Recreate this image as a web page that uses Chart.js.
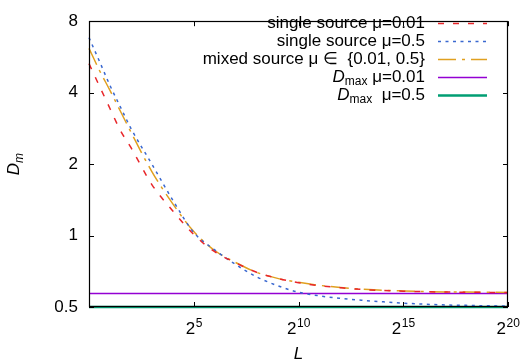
<!DOCTYPE html>
<html>
<head>
<meta charset="utf-8">
<script src="https://cdn.jsdelivr.net/npm/chart.js@4/dist/chart.umd.min.js"></script>
<style>
  html, body { margin: 0; padding: 0; background: #fff; }
  #wrap { width: 521px; height: 364px; }
</style>
</head>
<body>
<div id="wrap"><canvas id="chart" width="521" height="364"></canvas></div>
<script>
// x values are log2(L)
const log2L = [0, 0.5, 1, 1.5, 2, 3, 4, 5, 6, 7, 8, 9, 10, 11, 12, 13, 14, 15, 16, 17, 18, 19, 20];
const singleLow  = [5.3, 4.26, 3.43, 2.77, 2.35, 1.64, 1.27, 1.01, 0.855, 0.768, 0.70, 0.66, 0.633, 0.615, 0.603, 0.593, 0.587, 0.583, 0.580, 0.578, 0.577, 0.576, 0.575];
const singleHigh = [6.82, 5.42, 4.29, 3.48, 2.83, 2.0, 1.41, 1.03, 0.87, 0.755, 0.67, 0.615, 0.577, 0.557, 0.544, 0.534, 0.526, 0.519, 0.514, 0.510, 0.508, 0.506, 0.505];
const mixed      = [6.15, 4.96, 4.09, 3.34, 2.73, 1.86, 1.36, 1.04, 0.865, 0.77, 0.70, 0.66, 0.635, 0.617, 0.604, 0.595, 0.588, 0.584, 0.581, 0.579, 0.578, 0.577, 0.576];
const dmaxLow  = 0.57;
const dmaxHigh = 0.5;
const yTickVals = [0.5, 1, 2, 4, 8];
const xTickExps = [5, 10, 15, 20];

const FONT = '"Liberation Sans", Arial, Helvetica, sans-serif';

const pts = arr => log2L.map((e, i) => ({ x: e, y: arr[i] }));
const flat = v => [{ x: log2L[0], y: v }, { x: log2L[log2L.length - 1], y: v }];

const series = [
  { label: 'single source μ=0.01', data: pts(singleLow), color: '#e8262a', dash: [6, 9], width: 1.5 },
  { label: 'single source μ=0.5', data: pts(singleHigh), color: '#3a68d0', dash: [3, 4.5], width: 1.5 },
  { label: 'mixed source μ ∈  {0.01, 0.5}', data: pts(mixed), color: '#e0a020', dash: [18, 6, 3, 6], width: 1.5 },
  { label: 'Dmax μ=0.01', data: flat(dmaxLow), color: '#9400d3', dash: [], width: 1.5, dmax: ' μ=0.01' },
  { label: 'Dmax μ=0.5', data: flat(dmaxHigh), color: '#009e73', dash: [], width: 2.5, dmax: '  μ=0.5' }
];

const frame = {
  id: 'frame',
  afterDraw(chart) {
    const ctx = chart.ctx;
    const a = chart.chartArea;
    const xs = chart.scales.x, ys = chart.scales.y;
    ctx.save();

    // border
    ctx.strokeStyle = '#000';
    ctx.lineWidth = 1.2;
    ctx.strokeRect(Math.round(a.left) + 0.5, Math.round(a.top) + 0.5,
      Math.round(a.right - a.left) - 1, Math.round(a.bottom - a.top) - 1);

    // inward ticks, mirrored
    const tl = 5;
    ctx.lineWidth = 1;
    ctx.beginPath();
    xTickExps.forEach(e => {
      const px = Math.round(xs.getPixelForValue(e)) + 0.5;
      ctx.moveTo(px, a.bottom); ctx.lineTo(px, a.bottom - tl);
      ctx.moveTo(px, a.top); ctx.lineTo(px, a.top + tl);
    });
    yTickVals.forEach(v => {
      const py = Math.round(ys.getPixelForValue(v)) + 0.5;
      ctx.moveTo(a.left, py); ctx.lineTo(a.left + tl, py);
      ctx.moveTo(a.right, py); ctx.lineTo(a.right - tl, py);
    });
    ctx.stroke();

    // x tick labels 2^n
    ctx.fillStyle = '#000';
    ctx.textBaseline = 'alphabetic';
    ctx.textAlign = 'left';
    xTickExps.forEach(e => {
      const px = xs.getPixelForValue(e);
      ctx.font = '17px ' + FONT;
      const wb = ctx.measureText('2').width;
      ctx.font = '12px ' + FONT;
      const we = ctx.measureText(String(e)).width;
      const x0 = px - (wb + we) / 2;
      ctx.font = '17px ' + FONT;
      ctx.fillText('2', x0, 334);
      ctx.font = '12px ' + FONT;
      ctx.fillText(String(e), x0 + wb + 0.5, 327);
    });

    // axis titles
    ctx.font = 'italic 17px ' + FONT;
    ctx.textAlign = 'center';
    ctx.fillText('L', (a.left + a.right) / 2, 359);

    ctx.save();
    ctx.translate(19, (a.top + a.bottom) / 2);
    ctx.rotate(-Math.PI / 2);
    ctx.font = 'italic 17px ' + FONT;
    const wD = ctx.measureText('D').width;
    ctx.font = 'italic 12px ' + FONT;
    const wm = ctx.measureText('m').width;
    ctx.textAlign = 'left';
    ctx.font = 'italic 17px ' + FONT;
    ctx.fillText('D', -(wD + wm) / 2, 0);
    ctx.font = 'italic 12px ' + FONT;
    ctx.fillText('m', -(wD + wm) / 2 + wD, 4);
    ctx.restore();

    // legend
    const textRight = 425, lx0 = 438, lx1 = 487;
    const rows = [23, 41, 59, 77, 95];
    series.forEach((s, i) => {
      const y = rows[i];
      ctx.textBaseline = 'middle';
      ctx.textAlign = 'right';
      if (s.dmax) {
        ctx.font = '17px ' + FONT;
        ctx.fillText(s.dmax, textRight, y);
        const w1 = ctx.measureText(s.dmax).width;
        ctx.font = '12px ' + FONT;
        ctx.fillText('max', textRight - w1, y + 5);
        const w2 = ctx.measureText('max').width;
        ctx.font = 'italic 17px ' + FONT;
        ctx.fillText('D', textRight - w1 - w2, y);
      } else {
        ctx.font = '17px ' + FONT;
        ctx.fillText(s.label, textRight, y);
      }
      ctx.beginPath();
      ctx.strokeStyle = s.color;
      ctx.lineWidth = s.width;
      ctx.setLineDash(s.dash);
      ctx.moveTo(lx0, y + 0.5); ctx.lineTo(lx1, y + 0.5);
      ctx.stroke();
      ctx.setLineDash([]);
    });

    ctx.restore();
  }
};

new Chart(document.getElementById('chart'), {
  type: 'line',
  data: {
    datasets: series.map(s => ({
      label: s.label,
      data: s.data,
      borderColor: s.color,
      backgroundColor: s.color,
      borderWidth: s.width,
      borderDash: s.dash,
      pointRadius: 0,
      fill: false,
      tension: 0.4,
      cubicInterpolationMode: 'monotone',
      clip: 3
    }))
  },
  options: {
    responsive: false,
    animation: false,
    devicePixelRatio: 1,
    layout: { padding: { top: 10, right: 13, left: 0, bottom: 0 } },
    plugins: { legend: { display: false }, tooltip: { enabled: false } },
    scales: {
      x: {
        type: 'linear',
        min: 0,
        max: 20,
        grid: { display: false, drawTicks: false },
        border: { display: false },
        ticks: { display: false },
        afterFit: s => { s.height = 57; }
      },
      y: {
        type: 'logarithmic',
        min: 0.5,
        max: 8,
        afterBuildTicks: s => { s.ticks = yTickVals.map(v => ({ value: v })); },
        grid: { display: false, drawTicks: false },
        border: { display: false },
        ticks: {
          color: '#000',
          padding: 11,
          font: { family: FONT, size: 17 },
          callback: v => String(v)
        },
        afterFit: s => { s.width = 89; }
      }
    }
  },
  plugins: [frame]
});
</script>
</body>
</html>
